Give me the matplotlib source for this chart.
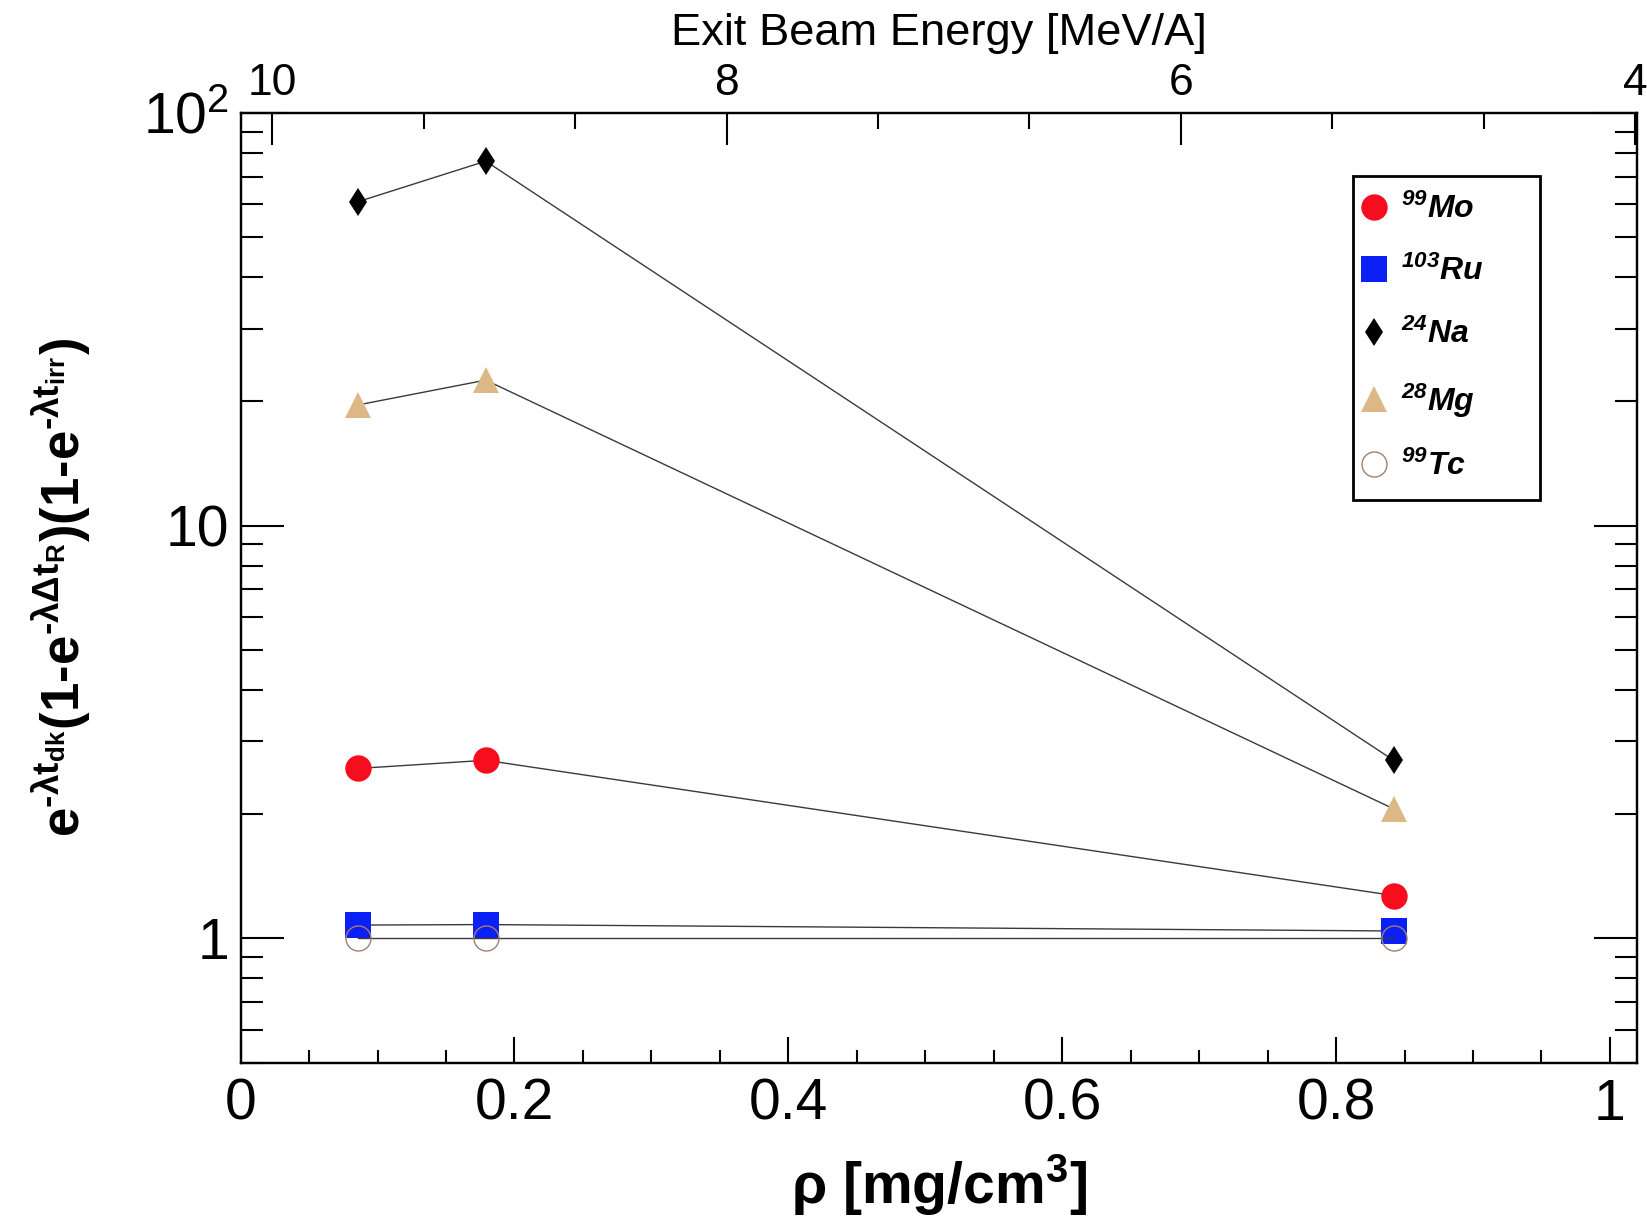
import matplotlib
matplotlib.use('Agg')
import matplotlib.pyplot as plt
from matplotlib.ticker import FixedLocator, FixedFormatter, LogLocator, AutoMinorLocator, NullFormatter, MultipleLocator
from matplotlib.lines import Line2D

plt.rcParams['font.family'] = ['Liberation Sans', 'DejaVu Sans']
plt.rcParams['mathtext.fontset'] = 'custom'
plt.rcParams['mathtext.rm'] = 'Liberation Sans'
plt.rcParams['mathtext.it'] = 'Liberation Sans:italic'
plt.rcParams['mathtext.bf'] = 'Liberation Sans:bold'
plt.rcParams['mathtext.bfit'] = 'Liberation Sans:bold:italic'

# ---- data ----
density = [0.086, 0.179, 0.842]
mo99 = [2.58, 2.70, 1.27]
ru103 = [1.077, 1.08, 1.042]
na24 = [60.9, 76.3, 2.70]
mg28 = [19.6, 22.5, 2.06]
tc99 = [1.0, 1.0, 1.0]

series_labels = [r'$^{\mathbfit{99}}\mathbfit{Mo}$', r'$^{\mathbfit{103}}\mathbfit{Ru}$',
                 r'$^{\mathbfit{24}}\mathbfit{Na}$', r'$^{\mathbfit{28}}\mathbfit{Mg}$',
                 r'$^{\mathbfit{99}}\mathbfit{Tc}$']

x_ticks = [0, 0.2, 0.4, 0.6, 0.8, 1]
x_tick_labels = ['0', '0.2', '0.4', '0.6', '0.8', '1']
y_ticks = [1, 10, 100]
y_tick_labels = ['1', '10', r'$\mathregular{10^{2}}$']
energy_ticks = [10, 8, 6, 4]
energy_tick_labels = ['10', '8', '6', '4']

# ---- styles ----
styles = [
    dict(marker='o', ms=19, mfc='#f80d1e', mec='#f80d1e', mew=0),
    dict(marker='s', ms=19, mfc='#0a20f5', mec='#0a20f5', mew=0),
    dict(marker='d', ms=14.5, mfc='black', mec='black', mew=0),
    dict(marker='^', ms=19, mfc='#dcb887', mec='#dcb887', mew=0),
    dict(marker='o', ms=18, mfc='none', mec='#a08070', mew=1.0),
]
series = [mo99, ru103, na24, mg28, tc99]

fig = plt.figure(figsize=(16.47, 12.22), dpi=100)
ax = fig.add_axes([0.1461, 0.1304, 0.848, 0.7774])

for vals, st in zip(series, styles):
    ax.plot(density, vals, '-', color='#3a3a3a', lw=1.0, **st)

ax.set_yscale('log')
ax.set_xlim(0, 1.02)
ax.set_ylim(0.5, 100)

ax.xaxis.set_major_locator(FixedLocator(x_ticks))
ax.xaxis.set_major_formatter(FixedFormatter(x_tick_labels))
ax.xaxis.set_minor_locator(MultipleLocator(0.05))
ax.yaxis.set_major_locator(FixedLocator(y_ticks))
ax.yaxis.set_major_formatter(FixedFormatter(y_tick_labels))
ax.yaxis.set_minor_locator(LogLocator(base=10, subs=[2, 3, 4, 5, 6, 7, 8, 9]))
ax.yaxis.set_minor_formatter(NullFormatter())

ax.tick_params(axis='x', which='major', direction='in', length=18.7, width=1.5,
               labelsize=41, pad=11, top=False)
ax.tick_params(axis='x', which='minor', direction='in', length=9.4, width=1.5, top=False)
ax.tick_params(axis='y', which='major', direction='in', length=31, width=1.5,
               left=True, right=True, labelsize=41, pad=8)
ax.tick_params(axis='y', which='minor', direction='in', length=15.6, width=1.5,
               left=True, right=True)
for sp in ax.spines.values():
    sp.set_linewidth(1.6)

ax.set_xlabel(r'$\mathbf{\rho}$ [mg/cm$^{\mathbf{3}}$]', fontsize=41, fontweight='bold', labelpad=15)
ax.set_ylabel('$\\mathbf{e^{\u2010\\lambda t_{dk}}(1\u2010e^{\u2010\\lambda\\Delta t_{R}})(1\u2010e^{\u2010\\lambda t_{irr}})}$',
              fontsize=38, labelpad=36)

ax2 = ax.twiny()
ax2.set_xlim(10.14, 3.99)
ax2.xaxis.set_major_locator(FixedLocator(energy_ticks))
ax2.xaxis.set_major_formatter(FixedFormatter(energy_tick_labels))
ax2.xaxis.set_minor_locator(AutoMinorLocator(3))
ax2.tick_params(axis='x', which='major', direction='in', length=23, width=1.5,
                labelsize=32, pad=6)
ax2.tick_params(axis='x', which='minor', direction='in', length=11.5, width=1.5)
ax2.set_xlabel('Exit Beam Energy [MeV/A]', fontsize=32.6, labelpad=13)
for sp in ax2.spines.values():
    sp.set_linewidth(1.6)

handles = [Line2D([], [], ls='none', **st) for st in styles]
leg = ax2.legend(handles, series_labels, loc='upper left',
                 bbox_to_anchor=(0.7962, 0.9334, 0.1344, 0.0),
                 bbox_transform=ax.transAxes, mode='expand', borderaxespad=0,
                 fontsize=23, handlelength=0.25, handletextpad=0.72, borderpad=0.55,
                 labelspacing=0.98, fancybox=False, framealpha=1, edgecolor='black')
leg.get_frame().set_linewidth(2)

fig.savefig('out.png', dpi=100)
